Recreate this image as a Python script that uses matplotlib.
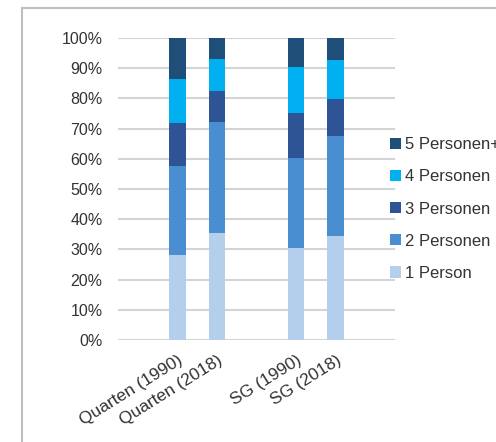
import matplotlib.pyplot as plt
import numpy as np
from matplotlib.patches import Rectangle

plt.rcParams['font.family'] = ['Liberation Sans', 'DejaVu Sans']

# leere Kategorien als Abstand zwischen den Gruppen
kategorien = ['', 'Quarten (1990)', 'Quarten (2018)', '', 'SG (1990)', 'SG (2018)', '']
reihen = ['1 Person', '2 Personen', '3 Personen', '4 Personen', '5 Personen+']
farben = ['#B4CFEC', '#4A8ED2', '#2E5496', '#00B0F0', '#1F4E79']

# Anteile in %, pro Haushaltsgroesse (0 = leere Kategorie)
p1 = [0, 28.0, 35.3, 0, 30.6, 34.4, 0]
p2 = [0, 29.7, 36.9, 0, 29.8, 33.1, 0]
p3 = [0, 14.0, 10.1, 0, 14.8, 12.3, 0]
p4 = [0, 14.6, 10.6, 0, 15.3, 12.8, 0]
p5 = [0, 13.7, 7.1, 0, 9.5, 7.4, 0]

werte = np.array([p1, p2, p3, p4, p5]) / 100
x = np.arange(len(kategorien))

fig = plt.figure(figsize=(4.96, 4.42), dpi=100)
ax = fig.add_axes([118/496, 1-340/442, 277/496, 302/442])

unten = np.zeros(len(kategorien))
for i in range(len(reihen)):
    ax.bar(x, werte[i], bottom=unten, width=0.42, color=farben[i], label=reihen[i], zorder=3)
    unten += werte[i]

ax.set_xlim(-0.5, 6.5)
ax.set_ylim(0, 1)
ax.set_yticks(np.arange(0, 1.01, 0.1))
ax.set_yticklabels([f'{int(round(v*100))}%' for v in np.arange(0, 1.01, 0.1)])
ax.grid(axis='y', color='#D4D4D4', linewidth=1.5, zorder=0)
ax.set_xticks(x)
ax.set_xticklabels(kategorien, rotation=32, ha='right', rotation_mode='anchor', fontsize=12.5)
for s in ax.spines.values():
    s.set_visible(False)
ax.tick_params(axis='y', length=0, labelsize=11.5, labelcolor='#333333', pad=11)
ax.tick_params(axis='x', length=0, labelcolor='#333333', pad=9)

# Legende rechts, letzte Reihe oben; der Text darf rechts ueberstehen
h, l = ax.get_legend_handles_labels()
ax.legend(h[::-1], l[::-1], loc='center left', bbox_to_anchor=(375/496, 1-209/442),
          bbox_transform=fig.transFigure, frameon=False, fontsize=12,
          handlelength=0.65, handleheight=0.65, handletextpad=0.25, labelspacing=1.03,
          labelcolor='#333333')

# grauer Rahmen um das Diagramm
fig.patches.append(Rectangle((22/496, -0.1), 1.2, 1-8/442+0.1, transform=fig.transFigure,
                             fill=False, edgecolor='#BFBFBF', linewidth=1.5))

fig.savefig('out.png', dpi=100)
